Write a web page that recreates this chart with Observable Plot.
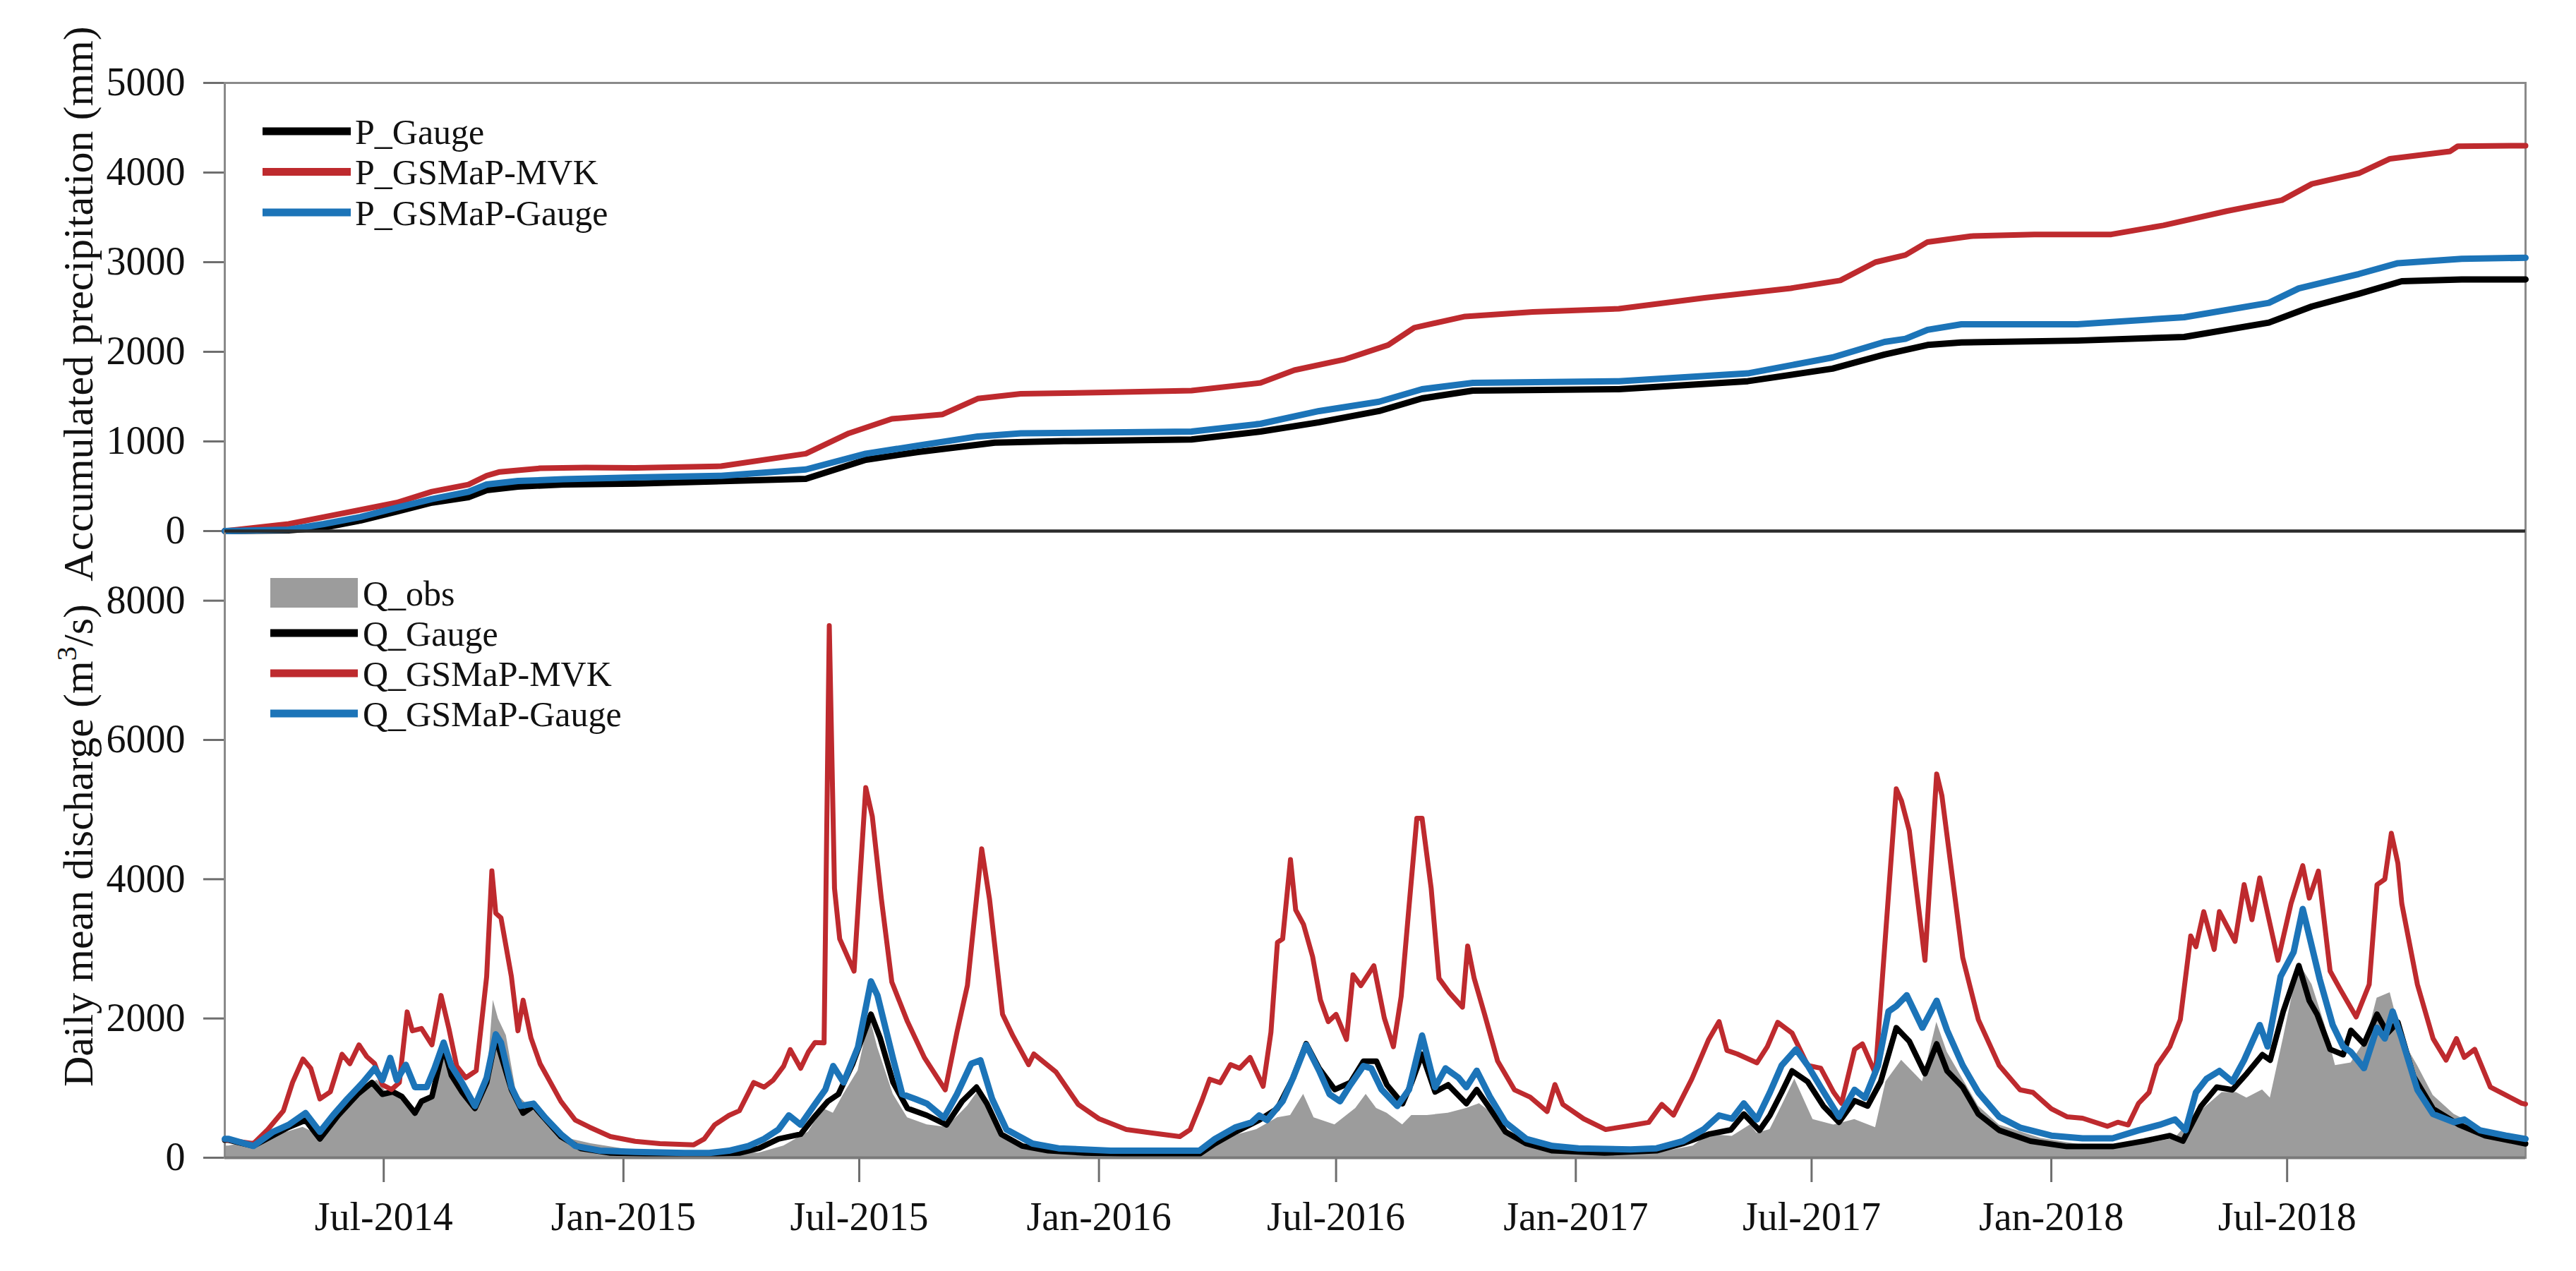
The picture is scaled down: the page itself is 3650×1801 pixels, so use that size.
<!DOCTYPE html>
<html><head><meta charset="utf-8">
<script src="https://cdn.jsdelivr.net/npm/d3@7"></script>
<script src="https://cdn.jsdelivr.net/npm/@observablehq/plot@0.6"></script>
<style>
html,body{margin:0;padding:0;background:#fff;}
#chart{position:relative;width:3650px;height:1801px;font-family:"Liberation Serif","Times New Roman",serif;}
#chart svg{position:absolute;left:0;overflow:visible;}
#chart g[aria-label="y-axis"] line, #chart g[aria-label="x-axis"] line,
#chart g[aria-label="y-axis tick"], #chart g[aria-label="x-axis tick"]{stroke:#6e6e6e;stroke-width:3px;}
</style></head>
<body><div id="chart"></div>
<script>
// ---------- data (day index counted from 2014-03-01) ----------
const startDate = "2014-03-01";
const endDate = "2018-12-31";

const topLabel = "Accumulated precipitation (mm)";
const bottomLabelParts = ["Daily mean discharge (m", "3", "/s)"];
const accTicks = [0, 1000, 2000, 3000, 4000, 5000];
const qTicks = [0, 2000, 4000, 6000, 8000];
const xTickDates = ["2014-07-01","2015-01-01","2015-07-01","2016-01-01","2016-07-01","2017-01-01","2017-07-01","2018-01-01","2018-07-01"];

const accNames = ["P_Gauge", "P_GSMaP-MVK", "P_GSMaP-Gauge"];
const qNames = ["Q_obs", "Q_Gauge", "Q_GSMaP-MVK", "Q_GSMaP-Gauge"];

// accumulated precipitation (mm)
const pGauge = [[0,0],[49,8],[76,39],[104,118],[132,217],[159,317],[187,378],[201,457],[225,496],[260,520],[315,529],[446,583],[492,795],[532,882],[591,986],[644,1003],[742,1021],[795,1110],[840,1214],[886,1339],[919,1480],[958,1567],[1070,1583],[1169,1672],[1234,1812],[1274,1970],[1307,2076],[1333,2105],[1422,2125],[1504,2165],[1569,2326],[1602,2506],[1638,2647],[1671,2787],[1717,2808],[1766,2808]];
const pMVK = [[0,0],[49,79],[76,157],[104,236],[132,317],[159,440],[187,519],[201,618],[211,660],[242,700],[277,708],[315,705],[381,724],[446,863],[479,1091],[512,1252],[551,1302],[578,1478],[611,1531],[676,1548],[742,1567],[795,1653],[821,1795],[860,1917],[893,2076],[913,2269],[952,2394],[1004,2445],[1070,2480],[1136,2603],[1202,2709],[1240,2796],[1267,3000],[1290,3080],[1307,3225],[1340,3290],[1389,3310],[1448,3310],[1488,3410],[1537,3571],[1579,3692],[1602,3873],[1638,3992],[1662,4154],[1708,4236],[1714,4294],[1766,4300]];
const pGSMaP = [[0,0],[49,16],[76,79],[104,157],[132,260],[159,357],[187,438],[201,520],[225,559],[260,578],[315,598],[381,617],[446,687],[492,863],[532,953],[578,1056],[611,1091],[742,1110],[795,1197],[840,1339],[886,1443],[919,1583],[958,1653],[1070,1672],[1169,1759],[1234,1937],[1274,2110],[1290,2145],[1307,2245],[1333,2307],[1422,2307],[1504,2386],[1569,2546],[1592,2708],[1638,2868],[1668,2989],[1717,3038],[1766,3049]];

// daily mean discharge (m3/s)
const qObs = [[0,169],[3,169],[30,270],[60,439],[75,304],[91,743],[106,1013],[117,1115],[125,912],[136,912],[148,675],[159,912],[168,1587],[178,1115],[191,743],[201,1047],[206,2262],[210,1993],[216,1756],[224,912],[235,709],[250,473],[265,270],[281,203],[315,101],[372,68],[410,68],[429,169],[448,372],[459,709],[467,642],[475,912],[486,1250],[495,2026],[501,1587],[513,912],[524,574],[539,473],[554,439],[570,743],[579,979],[586,709],[596,304],[620,135],[680,51],[748,34],[760,236],[772,304],[792,405],[808,574],[818,608],[828,912],[836,574],[852,473],[868,709],[876,912],[884,709],[892,642],[904,473],[911,608],[923,608],[939,642],[953,709],[963,777],[975,608],[987,304],[1007,169],[1039,84],[1099,68],[1127,169],[1139,338],[1157,310],[1171,473],[1176,355],[1186,405],[1195,743],[1205,1131],[1219,549],[1235,472],[1251,549],[1267,433],[1275,1092],[1287,1402],[1303,1092],[1314,1945],[1322,1518],[1334,1131],[1346,743],[1362,472],[1394,278],[1433,161],[1473,200],[1497,278],[1509,549],[1521,743],[1533,937],[1544,937],[1552,860],[1564,976],[1570,860],[1580,1712],[1592,2798],[1602,2488],[1612,1906],[1620,1325],[1632,1363],[1644,1712],[1652,2294],[1662,2371],[1671,1712],[1683,1325],[1695,898],[1711,627],[1731,433],[1766,239]];
const qGauge = [[0,253],[3,253],[22,169],[49,439],[62,540],[73,270],[87,608],[102,912],[113,1081],[121,912],[129,946],[136,878],[146,642],[151,811],[159,878],[168,1587],[174,1182],[182,946],[192,709],[201,1081],[208,1722],[220,979],[229,642],[237,743],[258,304],[273,135],[296,68],[334,51],[372,51],[395,68],[410,135],[425,270],[442,338],[452,574],[463,811],[471,912],[482,1351],[496,2060],[503,1722],[513,1081],[524,709],[539,608],[554,473],[566,811],[577,1013],[585,777],[596,338],[612,169],[632,101],[660,68],[700,51],[748,51],[760,203],[776,372],[794,540],[808,709],[820,1148],[830,1637],[840,1284],[852,979],[864,1081],[874,1385],[884,1385],[892,1047],[904,777],[911,1081],[919,1486],[929,946],[939,1047],[953,777],[961,979],[971,709],[983,372],[999,203],[1019,101],[1059,68],[1099,101],[1119,203],[1139,338],[1156,400],[1166,627],[1178,394],[1186,608],[1195,937],[1203,1247],[1215,1092],[1227,743],[1239,510],[1251,820],[1261,743],[1271,1092],[1283,1867],[1293,1673],[1305,1208],[1314,1635],[1322,1247],[1334,1014],[1346,627],[1362,394],[1386,239],[1414,161],[1449,161],[1473,239],[1493,317],[1503,239],[1517,743],[1529,1014],[1541,976],[1552,1208],[1564,1480],[1570,1402],[1580,2100],[1592,2759],[1600,2255],[1606,2061],[1616,1557],[1626,1480],[1632,1829],[1642,1635],[1652,2061],[1660,1790],[1668,1945],[1680,1170],[1695,704],[1715,472],[1735,317],[1766,200]];
const qMVK = [[0,260],[3,253],[22,203],[33,405],[45,675],[52,1081],[60,1418],[66,1284],[73,844],[81,946],[90,1486],[96,1351],[103,1621],[109,1452],[115,1351],[121,1047],[128,979],[134,1081],[140,2094],[144,1823],[151,1857],[159,1621],[166,2330],[172,1857],[178,1317],[185,1148],[193,1250],[201,2600],[205,4120],[208,3512],[212,3444],[220,2600],[225,1823],[229,2262],[235,1722],[242,1351],[250,1081],[258,810],[269,540],[280,439],[296,304],[315,236],[334,203],[360,186],[368,270],[376,473],[387,608],[395,675],[406,1081],[414,1013],[421,1115],[429,1317],[434,1553],[442,1284],[448,1520],[453,1654],[460,1650],[464,7641],[468,3869],[472,3144],[483,2679],[492,5315],[497,4903],[504,3713],[512,2524],[524,1955],[537,1438],[553,974],[562,1803],[570,2472],[581,4437],[587,3713],[597,2059],[605,1749],[617,1337],[621,1490],[638,1232],[655,767],[671,560],[692,405],[712,354],[733,304],[741,405],[750,820],[756,1128],[764,1077],[772,1337],[779,1285],[787,1440],[797,1025],[803,1801],[808,3093],[812,3144],[818,4282],[822,3558],[828,3351],[835,2887],[841,2266],[847,1955],[853,2059],[861,1698],[866,2628],[872,2472],[882,2757],[890,2008],[897,1594],[903,2318],[909,3609],[915,4876],[919,4876],[926,3868],[932,2576],[940,2370],[950,2163],[954,3041],[959,2576],[967,2059],[977,1388],[990,974],[1002,871],[1015,664],[1021,1051],[1027,767],[1043,560],[1060,405],[1077,456],[1093,508],[1103,767],[1112,612],[1126,1128],[1139,1698],[1147,1955],[1153,1542],[1161,1490],[1176,1363],[1184,1596],[1192,1945],[1203,1790],[1215,1325],[1225,1286],[1235,937],[1241,782],[1251,1557],[1257,1635],[1267,1208],[1275,3263],[1283,5298],[1287,5124],[1293,4697],[1305,2836],[1314,5512],[1318,5202],[1326,4038],[1334,2875],[1346,1983],[1362,1325],[1378,976],[1388,937],[1402,704],[1414,588],[1426,568],[1445,452],[1453,510],[1461,471],[1469,782],[1477,937],[1483,1325],[1493,1596],[1501,1983],[1509,3186],[1513,3030],[1519,3534],[1527,2991],[1531,3534],[1543,3108],[1550,3922],[1556,3418],[1562,4019],[1576,2836],[1586,3651],[1595,4194],[1600,3728],[1607,4116],[1616,2681],[1624,2411],[1636,2022],[1646,2488],[1652,3922],[1658,4000],[1663,4659],[1668,4232],[1671,3651],[1683,2488],[1695,1712],[1705,1402],[1713,1712],[1719,1441],[1727,1557],[1739,1014],[1751,898],[1763,782],[1766,770]];
const qGSMaP = [[0,270],[3,270],[22,169],[37,372],[49,473],[62,642],[73,372],[83,608],[94,844],[106,1081],[115,1284],[121,1115],[127,1435],[132,1115],[139,1334],[146,1013],[155,1013],[161,1284],[168,1654],[174,1317],[182,1081],[192,743],[201,1148],[208,1773],[212,1654],[220,1013],[227,743],[237,777],[246,574],[258,338],[269,169],[288,101],[315,84],[353,68],[372,68],[387,101],[402,169],[414,270],[425,405],[433,608],[442,473],[452,743],[461,979],[467,1317],[475,1081],[486,1587],[496,2533],[501,2330],[513,1418],[520,912],[530,844],[539,777],[552,574],[562,912],[573,1351],[580,1400],[589,844],[600,405],[620,203],[640,135],[680,101],[748,101],[760,270],[776,439],[788,507],[794,608],[800,540],[812,811],[820,1148],[830,1621],[840,1250],[848,912],[856,811],[864,1047],[874,1317],[880,1284],[888,979],[900,743],[909,979],[919,1756],[929,1013],[937,1284],[947,1148],[953,1013],[961,1250],[971,878],[983,507],[999,270],[1019,169],[1039,135],[1079,118],[1099,135],[1119,236],[1135,405],[1147,608],[1157,560],[1166,780],[1176,549],[1186,937],[1195,1325],[1206,1557],[1215,1325],[1225,1014],[1239,588],[1251,976],[1259,860],[1269,1325],[1277,2100],[1283,2178],[1291,2333],[1303,1867],[1314,2255],[1322,1829],[1334,1325],[1346,937],[1362,588],[1378,433],[1402,317],[1426,278],[1449,278],[1469,394],[1485,472],[1497,549],[1505,394],[1513,937],[1521,1131],[1531,1247],[1541,1092],[1550,1402],[1562,1906],[1568,1596],[1578,2604],[1588,2953],[1595,3573],[1600,3186],[1608,2565],[1618,1906],[1626,1596],[1632,1518],[1642,1286],[1652,1867],[1658,1712],[1664,2100],[1671,1712],[1683,976],[1695,627],[1711,510],[1719,549],[1731,394],[1751,317],[1766,270]];

// ---------- styling ----------
const COL = {gauge: "#000000", mvk: "#BE2A2E", gsm: "#1C74B8", obs: "#9C9C9C", frame: "#8a8a8a"};
const FONT = "Liberation Serif";

const t0 = new Date(startDate + "T00:00:00Z");
const t1 = new Date(endDate + "T00:00:00Z");
const toDate = d => new Date(t0.getTime() + d * 864e5);
const rows = arr => arr.map(([d, v]) => ({date: toDate(d), v}));

const W = 3650, H = 1801, ML = 318, MR = 72, SPLIT = 752, MT = 117, MB = 161;
const baseStyle = {background: "none", fontFamily: FONT, fontSize: "56px", color: "#111", overflow: "visible"};

const topPlot = Plot.plot({
  width: W, height: SPLIT,
  marginTop: MT, marginBottom: 0, marginLeft: ML, marginRight: MR,
  style: baseStyle,
  x: {type: "utc", domain: [t0, t1], axis: null},
  y: {domain: [0, 5000], ticks: accTicks, tickSize: 30, tickPadding: 26, label: null, tickFormat: d3.format("d")},
  marks: [
    Plot.frame({stroke: COL.frame, strokeWidth: 3}),
    Plot.lineY(rows(pGauge), {x: "date", y: "v", stroke: COL.gauge, strokeWidth: 9}),
    Plot.lineY(rows(pMVK), {x: "date", y: "v", stroke: COL.mvk, strokeWidth: 8}),
    Plot.lineY(rows(pGSMaP), {x: "date", y: "v", stroke: COL.gsm, strokeWidth: 9}),
    Plot.ruleY([0], {stroke: "#2b2b2b", strokeWidth: 4})
  ]
});

const botPlot = Plot.plot({
  width: W, height: H - SPLIT,
  marginTop: 0, marginBottom: MB, marginLeft: ML, marginRight: MR,
  style: baseStyle,
  x: {type: "utc", domain: [t0, t1], ticks: xTickDates.map(s => new Date(s + "T00:00:00Z")),
      tickFormat: d3.utcFormat("%b-%Y"), tickSize: 35, tickPadding: 28, label: null},
  y: {domain: [0, 9000], ticks: qTicks, tickSize: 30, tickPadding: 26, label: null, tickFormat: d3.format("d")},
  marks: [
    Plot.areaY(rows(qObs), {x: "date", y: "v", fill: COL.obs}),
    Plot.frame({stroke: COL.frame, strokeWidth: 3}),
    Plot.lineY(rows(qGauge), {x: "date", y: "v", stroke: COL.gauge, strokeWidth: 8}),
    Plot.lineY(rows(qMVK), {x: "date", y: "v", stroke: COL.mvk, strokeWidth: 7}),
    Plot.lineY(rows(qGSMaP), {x: "date", y: "v", stroke: COL.gsm, strokeWidth: 9}),
    Plot.ruleY([0], {stroke: "#7a7a7a", strokeWidth: 4}),
    Plot.ruleY([9000], {stroke: "#2b2b2b", strokeWidth: 4})
  ]
});

const chart = document.getElementById("chart");
topPlot.style.top = "0px";
botPlot.style.top = SPLIT + "px";
chart.appendChild(topPlot);
chart.appendChild(botPlot);

// ---------- axis titles and legends ----------
const leg = d3.create("svg").attr("width", W).attr("height", H)
  .style("top", "0px").style("pointer-events", "none")
  .attr("font-family", FONT).attr("font-size", 50).attr("fill", "#111");

const titleX = 110;
leg.append("text")
  .attr("transform", `translate(${titleX},${(MT + SPLIT) / 2 - 4}) rotate(-90)`)
  .attr("text-anchor", "middle").attr("dy", "0.35em").attr("font-size", 60)
  .text(topLabel);
const bt = leg.append("text")
  .attr("transform", `translate(${titleX},${(SPLIT + H - MB) / 2 + 2}) rotate(-90)`)
  .attr("text-anchor", "middle").attr("dy", "0.35em").attr("font-size", 60);
bt.append("tspan").text(bottomLabelParts[0]);
bt.append("tspan").attr("font-size", 41).attr("dy", "-0.55em").text(bottomLabelParts[1]);
bt.append("tspan").attr("dy", "0.38em").text(bottomLabelParts[2]);

const topColors = [COL.gauge, COL.mvk, COL.gsm];
accNames.forEach((name, i) => {
  const y = 186 + i * 57.5;
  leg.append("line").attr("x1", 372).attr("x2", 497).attr("y1", y).attr("y2", y)
    .attr("stroke", topColors[i]).attr("stroke-width", 11);
  leg.append("text").attr("x", 503).attr("y", y).attr("dy", "0.35em").text(name);
});

const botColors = [COL.obs, COL.gauge, COL.mvk, COL.gsm];
qNames.forEach((name, i) => {
  const y = 840 + i * 57;
  if (i === 0) {
    leg.append("rect").attr("x", 383).attr("y", y - 21).attr("width", 124).attr("height", 42).attr("fill", COL.obs);
  } else {
    leg.append("line").attr("x1", 383).attr("x2", 507).attr("y1", y).attr("y2", y)
      .attr("stroke", botColors[i]).attr("stroke-width", 11);
  }
  leg.append("text").attr("x", 514).attr("y", y).attr("dy", "0.35em").text(name);
});
chart.appendChild(leg.node());
</script>
</body></html>
